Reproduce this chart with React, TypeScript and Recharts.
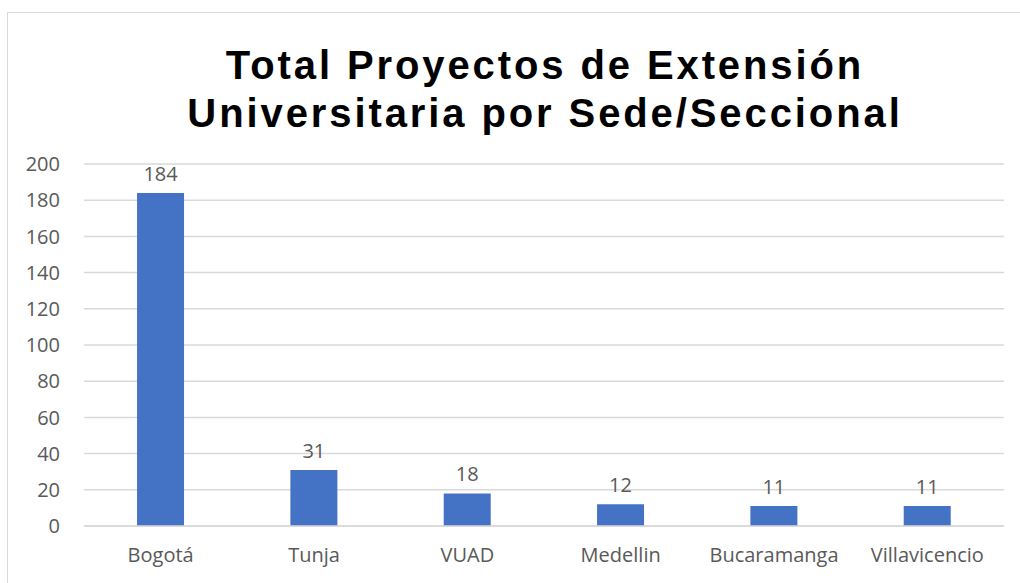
import { BarChart, Bar, XAxis, YAxis, CartesianGrid, LabelList } from "recharts";

const sedes = ["Bogotá", "Tunja", "VUAD", "Medellin", "Bucaramanga", "Villavicencio"];
const proyectos = [184, 31, 18, 12, 11, 11];
const yTicks = [0, 20, 40, 60, 80, 100, 120, 140, 160, 180, 200];
const titleLines = ["Total Proyectos de Extensión", "Universitaria por Sede/Seccional"];

const data = sedes.map((sede, i) => ({ sede, total: proyectos[i] }));

const tickFont = { fill: "#595959", fontSize: 20, fontFamily: "'Open Sans', sans-serif" };

export default function App() {
  return (
    <div style={{ position: "absolute", left: 0, top: 0, width: 1020, height: 583, overflow: "hidden", background: "#fff" }}>
      <div
        style={{
          position: "absolute",
          left: 7,
          top: 12,
          width: 1040,
          height: 600,
          border: "1px solid #d9d9d9",
        }}
      />
      <div
        style={{
          position: "absolute",
          left: 45,
          width: 1000,
          top: 41,
          textAlign: "center",
          fontFamily: "'Liberation Sans', Arial, sans-serif",
          fontWeight: "bold",
          fontSize: 40,
          letterSpacing: 2.9,
          lineHeight: "48px",
          color: "#000",
        }}
      >
        {titleLines.map((t) => (
          <div key={t}>{t}</div>
        ))}
      </div>
      <div style={{ position: "absolute", left: 0, top: 0 }}>
        <BarChart
          width={1020}
          height={583}
          data={data}
          margin={{ top: 164, right: 16, bottom: 0, left: 0 }}
          barCategoryGap="34.6%"
        >
          <CartesianGrid vertical={false} stroke="#d9d9d9" strokeWidth={1.5} />
          <XAxis
            dataKey="sede"
            height={57}
            tick={tickFont}
            tickLine={false}
            axisLine={{ stroke: "#d9d9d9", strokeWidth: 1.5 }}
            tickMargin={16}
          />
          <YAxis
            width={84}
            domain={[0, 200]}
            ticks={yTicks}
            tick={tickFont}
            tickLine={false}
            axisLine={false}
            tickMargin={18}
          />
          <Bar dataKey="total" fill="#4472C4" isAnimationActive={false}>
            <LabelList dataKey="total" position="top" offset={12} style={tickFont} />
          </Bar>
        </BarChart>
      </div>
    </div>
  );
}
